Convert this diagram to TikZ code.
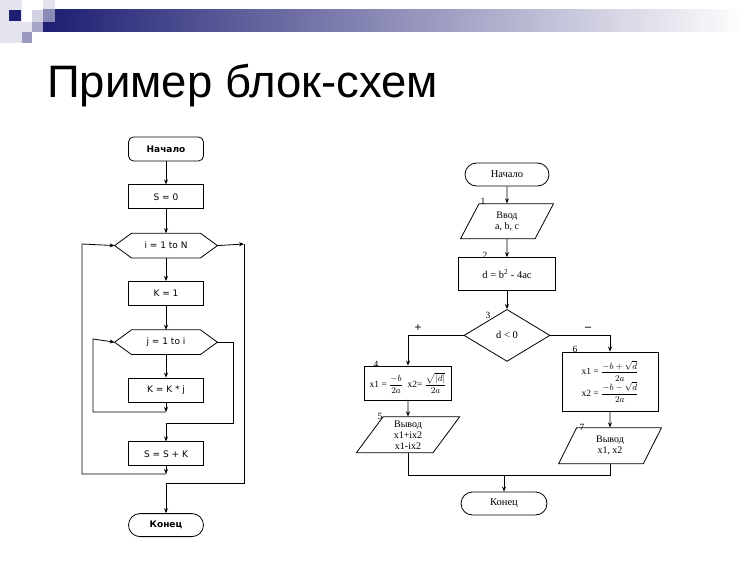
\documentclass[tikz,border=0pt]{standalone}
\usepackage{amsmath}
\usepackage{fontspec}
\setmainfont{Liberation Serif}
\newfontfamily\headfont{Liberation Sans}
\newfontfamily\chartfont{DejaVu Sans}
\usetikzlibrary{arrows.meta, positioning, shapes.geometric}
\definecolor{hdrblue}{RGB}{30,30,115}

\begin{document}
\begin{tikzpicture}[x=1pt, y=-1pt,
  box/.style={draw, line width=0.8pt, minimum width=75pt, minimum height=24pt,
              inner sep=1pt, font=\chartfont\fontsize{9}{10}\selectfont},
  term/.style={box, rounded corners=5pt, font=\chartfont\bfseries\fontsize{9}{10}\selectfont},
  loophead/.style={box, draw=none, minimum width=102pt},
  sbox/.style={draw, line width=0.8pt, inner sep=1pt, align=center,
               font=\fontsize{10.5}{12}\selectfont},
  sterm/.style={sbox, rounded corners=11.5pt, minimum width=84pt, minimum height=23pt},
  io/.style={sbox, trapezium, trapezium stretches=true, minimum height=36pt,
             font=\fontsize{10}{11}\selectfont},
  num/.style={inner sep=0pt, font=\fontsize{9.5}{10}\selectfont},
  arr/.style={-{Stealth[length=5pt, width=4pt]}, line width=0.8pt},
  link/.style={line width=0.8pt}
]
  \useasboundingbox (0,0) rectangle (750,561);
  \fill[white] (0,0) rectangle (750,561);

  % slide header
  \shade[left color=hdrblue, right color=white, middle color=hdrblue!50!white]
    (43,10) rectangle (745,32);
  \fill[hdrblue!12] (0,0) rectangle (22,43);
  \fill[hdrblue] (9,10) rectangle (21,21);
  \fill[hdrblue!25, opacity=0.8] (32,10) rectangle (43,22);
  \fill[hdrblue!20, opacity=0.6] (43,0) rectangle (55,22);
  \fill[hdrblue!12] (22,22) rectangle (32,32);
  \fill[hdrblue!45] (22,32) rectangle (32,43);
  \fill[hdrblue!40] (32,22) rectangle (43,32);
  \node[anchor=base west, inner sep=0pt, font=\headfont\fontsize{45.5}{50}\selectfont]
    (title) at (47,98) {Пример блок-схем};

  % left chart: nested loops
  \node[term] (start) at (166,149) {Начало};
  \node[box, below=23pt of start] (s0) {S = 0};
  \node[loophead, below=24pt of s0] (loop1) {i = 1 to N};
  \node[box, below=23pt of loop1] (k1) {K = 1};
  \node[loophead, below=24pt of k1] (loop2) {j = 1 to i};
  \node[box, below=23pt of loop2] (kkj) {K = K * j};
  \node[box, below=39pt of kkj] (ssk) {S = S + K};
  \node[term, rounded corners=11.5pt, minimum height=23pt, below=47pt of ssk] (fin) {Конец};

  \foreach \h in {loop1, loop2}
    \draw[link] (\h.west) -- ([xshift=17pt]\h.north west) -- ([xshift=-17pt]\h.north east)
      -- (\h.east) -- ([xshift=-17pt]\h.south east) -- ([xshift=17pt]\h.south west) -- cycle;

  \coordinate (innerjoin) at (166,412);
  \coordinate (innerleft) at (93,339);
  \coordinate (innerright) at (233,423);
  \coordinate (outerjoin) at (166,474);
  \coordinate (outerleft) at (82,244);
  \coordinate (outerright) at (244,244);
  \coordinate (outerbottom) at (244,483);

  \draw[arr] (start) -- (s0);
  \draw[arr] (s0) -- (loop1);
  \draw[arr] (loop1) -- (k1);
  \draw[arr] (k1) -- (loop2);
  \draw[arr] (loop2) -- (kkj);
  \draw[arr] (kkj) -- (innerjoin);
  \draw[arr] (innerjoin) -| (innerleft) -- (loop2.west);
  \draw[arr] (loop2.east) -| (innerright) -- (innerright -| ssk.north) -- (ssk);
  \draw[arr] (ssk) -- (outerjoin);
  \draw[arr] (outerjoin) -| (outerleft) -- (loop1.west);
  \draw[arr] (loop1.east) -- (outerright);
  \draw[arr] (outerright) -- (outerbottom) -- (outerbottom -| fin.north) -- (fin);

  % right chart: quadratic equation
  \node[sterm] (start2) at (507,174.5) {Начало};
  \node[io, trapezium left angle=68, trapezium right angle=112, minimum width=93pt,
        minimum height=35pt, below=17pt of start2] (in1) {Ввод\\a, b, c};
  \node[sbox, minimum width=97pt, minimum height=33pt, below=18pt of in1] (calc)
    {d = b\textsuperscript{2} - 4ac};
  \node[sbox, diamond, inner sep=0pt, minimum width=86pt, minimum height=52pt,
        below=18pt of calc] (dia) {d < 0};
  \node[sbox, minimum width=87pt, minimum height=34pt, font=\fontsize{9.5}{11}\selectfont]
    (r4) at (408,383) {x1 = $\dfrac{-b}{2a}$\ \ x2= $\dfrac{\sqrt{|d|}}{2a}$};
  \node[io, trapezium left angle=62, trapezium right angle=118, minimum width=104pt,
        below=16pt of r4] (out5) {Вывод\\x1+ix2\\x1-ix2};
  \node[sbox, minimum width=96pt, minimum height=59pt, font=\fontsize{9.5}{11}\selectfont]
    (r6) at (610,381.5) {x1 = $\dfrac{-b+\sqrt{d}}{2a}$\\[0pt] x2 = $\dfrac{-b-\sqrt{d}}{2a}$};
  \node[io, trapezium left angle=69, trapezium right angle=111, minimum width=103pt,
        below=16pt of r6] (out7) {Вывод\\x1, x2};
  \node[sterm, minimum width=86pt] (end2) at (504,503.5) {Конец};
  \coordinate (merge) at (504,475);

  \node[num] (n1) at (483,201) {1};
  \node[num] (n2) at (485,255) {2};
  \node[num] (n3) at (488,315) {3};
  \node[num] (n4) at (376,364) {4};
  \node[num] (n5) at (380,416) {5};
  \node[num] (n6) at (575,349) {6};
  \node[num] (n7) at (582,427) {7};
  \node[num, font=\bfseries\fontsize{12}{12}\selectfont] (plus) at (418,328) {+};
  \node[num, font=\bfseries\fontsize{12}{12}\selectfont] (minus) at (588,329) {–};

  \draw[arr] (start2) -- (in1);
  \draw[arr] (in1) -- (calc);
  \draw[arr] (calc) -- (dia);
  \draw[arr] (dia.west) -| (r4);
  \draw[arr] (dia.east) -| (r6);
  \draw[arr] (r4) -- (out5);
  \draw[arr] (r6) -- (out7);
  \draw[link] (out5) |- (merge);
  \draw[link] (out7) |- (merge);
  \draw[arr] (merge) -- (end2);
\end{tikzpicture}
\end{document}
